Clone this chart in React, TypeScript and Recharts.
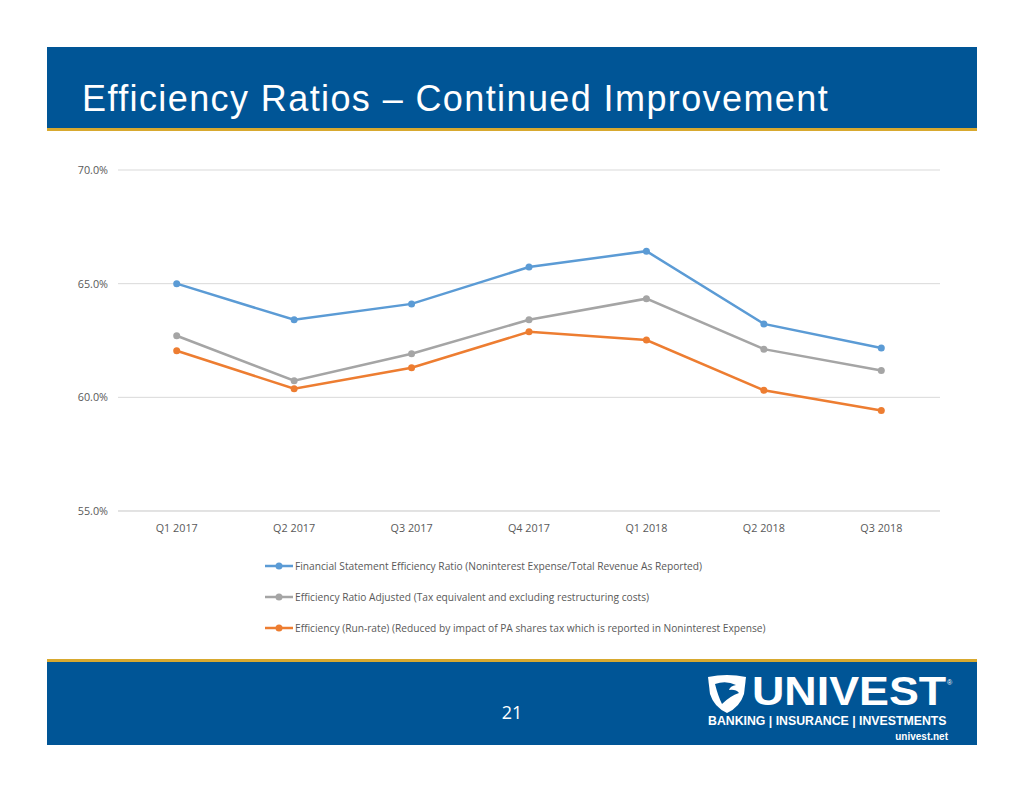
import React from 'react';
import { LineChart, Line, XAxis, YAxis, CartesianGrid, Legend } from 'recharts';

const quarters = ['Q1 2017', 'Q2 2017', 'Q3 2017', 'Q4 2017', 'Q1 2018', 'Q2 2018', 'Q3 2018'];
const reported = [65.0, 63.41, 64.11, 65.73, 66.43, 63.23, 62.17];
const adjusted = [62.71, 60.73, 61.92, 63.41, 64.34, 62.12, 61.18];
const runRate = [62.05, 60.38, 61.3, 62.88, 62.52, 60.31, 59.42];
const yTicks = [55, 60, 65, 70];

const seriesOrder = ['reported', 'adjusted', 'runRate'];
const seriesNames = {
  reported: 'Financial Statement Efficiency Ratio (Noninterest Expense/Total Revenue As Reported)',
  adjusted: 'Efficiency Ratio Adjusted (Tax equivalent and excluding restructuring costs)',
  runRate: 'Efficiency (Run-rate) (Reduced by impact of PA shares tax which is reported in Noninterest Expense)',
};

const data = quarters.map((q, i) => ({
  quarter: q,
  reported: reported[i],
  adjusted: adjusted[i],
  runRate: runRate[i],
}));

const BLUE = '#005596';
const GOLD = '#d8a92f';
const font = '"Open Sans", sans-serif';
const arial = '"Liberation Sans", Arial, sans-serif';

const LegendRows = (props: any) => {
  const items = [...(props.payload || [])].sort(
    (a: any, b: any) => seriesOrder.indexOf(a.dataKey) - seriesOrder.indexOf(b.dataKey)
  );
  return (
    <div style={{ fontFamily: font, fontSize: 10.2, color: '#595959' }}>
      {items.map((it: any) => (
        <div key={it.value} style={{ height: 31, display: 'flex', alignItems: 'center', whiteSpace: 'nowrap' }}>
          <svg width={29} height={10} style={{ marginRight: 1 }}>
            <line x1={0} y1={5} x2={28} y2={5} stroke={it.color} strokeWidth={2.5} />
            <circle cx={14} cy={5} r={3.5} fill={it.color} />
          </svg>
          <span>{it.value}</span>
        </div>
      ))}
    </div>
  );
};

export default function App() {
  return (
    <div style={{ position: 'relative', width: 1024, height: 791, margin: -8, background: '#fff', overflow: 'hidden' }}>
      {/* header */}
      <div style={{ position: 'absolute', left: 47, top: 47, width: 930, height: 81, background: BLUE }} />
      <div style={{ position: 'absolute', left: 47, top: 128, width: 930, height: 3, background: GOLD }} />
      <div
        style={{
          position: 'absolute',
          left: 82,
          top: 77,
          color: '#fff',
          fontFamily: arial,
          fontSize: 36,
          letterSpacing: 1.4,
          lineHeight: '44px',
          whiteSpace: 'nowrap',
        }}
      >
        Efficiency Ratios – Continued Improvement
      </div>

      {/* chart */}
      <div style={{ position: 'absolute', left: 60, top: 150 }}>
        <LineChart width={900} height={500} data={data} margin={{ top: 20, right: 20, bottom: 109, left: 0 }}>
          <CartesianGrid horizontal vertical={false} stroke="#d9d9d9" />
          <XAxis
            dataKey="quarter"
            padding={{ left: 58.7, right: 58.7 }}
            axisLine={{ stroke: '#d9d9d9' }}
            tickLine={false}
            tick={{ fill: '#595959', fontSize: 10.8, fontFamily: font }}
            tickMargin={7}
            height={30}
          />
          <YAxis
            domain={[55, 70]}
            ticks={yTicks}
            width={58}
            axisLine={false}
            tickLine={false}
            tickMargin={4}
            tickFormatter={(v: number) => v.toFixed(1) + '%'}
            tick={{ fill: '#595959', fontSize: 10.8, fontFamily: font }}
          />
          <Legend
            layout="vertical"
            align="center"
            verticalAlign="middle"
            wrapperStyle={{ top: 400, left: 205, width: 'auto' }}
            content={<LegendRows />}
          />
          <Line dataKey="reported" name={seriesNames.reported} stroke="#5b9bd5" strokeWidth={2.5}
            dot={{ r: 3.5, fill: '#5b9bd5', strokeWidth: 0 }} isAnimationActive={false} />
          <Line dataKey="adjusted" name={seriesNames.adjusted} stroke="#a5a5a5" strokeWidth={2.5}
            dot={{ r: 3.5, fill: '#a5a5a5', strokeWidth: 0 }} isAnimationActive={false} />
          <Line dataKey="runRate" name={seriesNames.runRate} stroke="#ed7d31" strokeWidth={2.5}
            dot={{ r: 3.5, fill: '#ed7d31', strokeWidth: 0 }} isAnimationActive={false} />
        </LineChart>
      </div>

      {/* footer */}
      <div style={{ position: 'absolute', left: 47, top: 659, width: 930, height: 3, background: GOLD }} />
      <div style={{ position: 'absolute', left: 47, top: 662, width: 930, height: 83, background: BLUE }} />
      <div
        style={{
          position: 'absolute',
          left: 492,
          width: 40,
          top: 700,
          textAlign: 'center',
          color: '#fff',
          fontFamily: font,
          fontSize: 18,
          lineHeight: '24px',
        }}
      >
        21
      </div>
      <svg style={{ position: 'absolute', left: 706, top: 674 }} width={42} height={40} viewBox="0 0 42 40">
        <path d="M2 3 Q21 -1 40 3 L38 20 Q34 33 21 39 Q8 33 4 20 Z" fill="#fff" />
        <path d="M9 10 Q20 6 30 11 Q24 12 23 16 Q30 15 33 19 Q24 22 16 30 Q12 22 9 10 Z" fill={BLUE} />
      </svg>
      <div
        style={{
          position: 'absolute',
          left: 752,
          top: 672,
          color: '#fff',
          fontFamily: arial,
          fontWeight: 700,
          fontSize: 40,
          lineHeight: '38px',
          transform: 'scaleX(1.12)',
          transformOrigin: 'left center',
        }}
      >
        UNIVEST
      </div>
      <div
        style={{
          position: 'absolute',
          left: 947,
          top: 679,
          color: '#fff',
          fontFamily: arial,
          fontSize: 7,
          lineHeight: '8px',
        }}
      >
        ®
      </div>
      <div
        style={{
          position: 'absolute',
          left: 708,
          top: 715,
          width: 242,
          color: '#fff',
          fontFamily: arial,
          fontWeight: 700,
          fontSize: 12.3,
          lineHeight: '13px',
          whiteSpace: 'nowrap',
        }}
      >
        BANKING | INSURANCE | INVESTMENTS
      </div>
      <div
        style={{
          position: 'absolute',
          left: 880,
          top: 731,
          width: 68,
          textAlign: 'right',
          color: '#fff',
          fontFamily: arial,
          fontWeight: 700,
          fontSize: 10,
          lineHeight: '12px',
        }}
      >
        univest.net
      </div>
    </div>
  );
}
